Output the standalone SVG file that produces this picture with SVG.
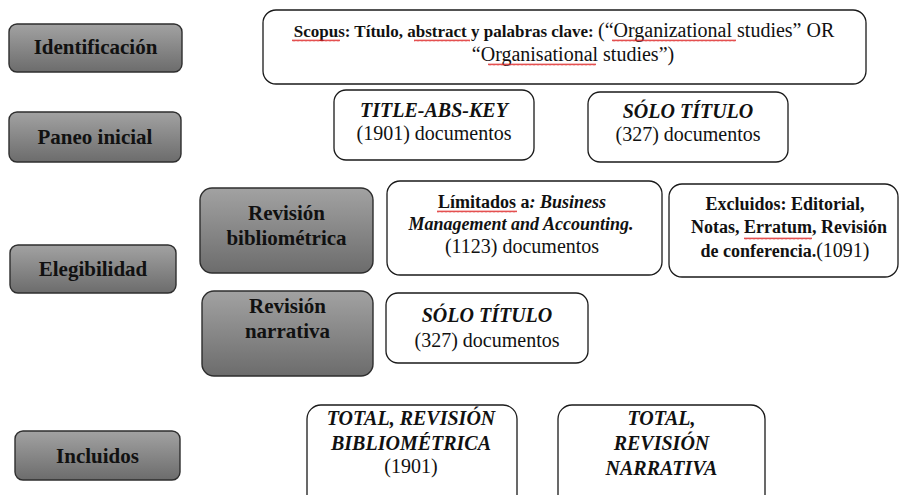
<svg xmlns="http://www.w3.org/2000/svg" width="902" height="495" viewBox="0 0 902 495" font-family="'Liberation Serif', serif">
<style>
.g{stroke:#2e2e2e;stroke-width:1.4;fill:url(#grad)}
.w{stroke:#1a1a1a;stroke-width:1.3;fill:#fff}
text{fill:#111}
.lb{font-weight:bold;font-size:21px;text-anchor:middle}
.r{font-size:20px}
.bi{font-weight:bold;font-style:italic}
.b{font-weight:bold}
.c{text-anchor:middle}
.sq{fill:url(#wave)}
</style>
<defs>
<linearGradient id="grad" x1="0" y1="0" x2="0" y2="1">
<stop offset="0" stop-color="#a2a2a2"/>
<stop offset="1" stop-color="#6c6c6c"/>
</linearGradient>
<pattern id="wave" width="4" height="3" patternUnits="userSpaceOnUse">
<path d="M0,2.4 L1,0.6 L2,2.4 L3,0.6 L4,2.4" fill="none" stroke="#d22" stroke-width="0.8"/>
</pattern>
</defs>

<g id="connectors"></g>

<g id="identificacion">
<rect class="g" x="9" y="24" width="173" height="48" rx="8"/>
<text class="lb" x="95.5" y="54">Identificación</text>
</g>
<g id="paneo-inicial">
<rect class="g" x="9" y="112" width="172" height="50" rx="8"/>
<text class="lb" x="95" y="144">Paneo inicial</text>
</g>
<g id="elegibilidad">
<rect class="g" x="10" y="245" width="166" height="48" rx="8"/>
<text class="lb" x="93" y="276">Elegibilidad</text>
</g>
<g id="incluidos">
<rect class="g" x="15" y="431" width="165" height="49" rx="8"/>
<text class="lb" x="97.5" y="463">Incluidos</text>
</g>
<g id="revision-bibliometrica">
<rect class="g" x="200" y="188" width="173" height="85" rx="12"/>
<text class="lb" x="286.5" y="220">Revisión</text>
<text class="lb" x="286.5" y="245">bibliométrica</text>
</g>
<g id="revision-narrativa">
<rect class="g" x="202" y="291" width="171" height="85" rx="12"/>
<text class="lb" x="287.5" y="313">Revisión</text>
<text class="lb" x="287.5" y="338">narrativa</text>
</g>

<g id="scopus">
<rect class="w" x="263" y="10" width="603" height="74" rx="13"/>
<text class="c" x="564" y="37"><tspan class="b" font-size="17">Scopus: Título, abstract y palabras clave: </tspan><tspan class="r">(“Organizational studies” OR</tspan></text>
<text class="c r" x="573" y="61">“Organisational studies”)</text>
<rect class="sq" x="292" y="39" width="48" height="3"/>
<rect class="sq" x="414" y="39" width="56" height="3"/>
<rect class="sq" x="612" y="39" width="124" height="3"/>
<rect class="sq" x="488" y="63" width="108" height="3"/>
</g>

<g id="title-abs-key">
<rect class="w" x="334" y="90" width="200" height="70" rx="12"/>
<text class="c bi" font-size="20" x="434" y="117">TITLE-ABS-KEY</text>
<text class="c r" x="434" y="140">(1901) documentos</text>
</g>
<g id="solo-titulo-1">
<rect class="w" x="588" y="92" width="200" height="70" rx="12"/>
<text class="c bi" font-size="20" x="688" y="118">SÓLO TÍTULO</text>
<text class="c r" x="688" y="141">(327) documentos</text>
</g>

<g id="limitados">
<rect class="w" x="387" y="181" width="275" height="94" rx="13"/>
<text class="c" font-size="18" x="522" y="208"><tspan class="b">Límitados a</tspan><tspan class="bi">: Business</tspan></text>
<text class="c bi" font-size="18" x="521" y="230">Management and Accounting.</text>
<text class="c r" x="522" y="253">(1123) documentos</text>
<rect class="sq" x="437" y="210" width="80" height="3"/>
</g>
<g id="excluidos">
<rect class="w" x="669" y="184" width="229" height="93" rx="13"/>
<text class="c b" font-size="18" x="785" y="210">Excluidos: Editorial,</text>
<text class="c b" font-size="18" x="789" y="233">Notas, Erratum, Revisión</text>
<text class="c" x="785" y="257"><tspan class="b" font-size="18">de conferencia.</tspan><tspan class="r">(1091)</tspan></text>
<rect class="sq" x="744" y="237" width="68" height="3"/>
</g>

<g id="solo-titulo-2">
<rect class="w" x="386" y="293" width="202" height="70" rx="12"/>
<text class="c bi" font-size="20" x="487" y="322">SÓLO TÍTULO</text>
<text class="c r" x="487" y="347">(327) documentos</text>
</g>

<g id="total-bibliometrica">
<rect class="w" x="307" y="405" width="210" height="110" rx="14"/>
<text class="c bi" font-size="20" x="411" y="425">TOTAL, REVISIÓN</text>
<text class="c bi" font-size="20" x="411" y="450">BIBLIOMÉTRICA</text>
<text class="c r" x="411" y="473">(1901)</text>
</g>
<g id="total-narrativa">
<rect class="w" x="558" y="405" width="207" height="110" rx="14"/>
<text class="c bi" font-size="20" x="661.5" y="425">TOTAL,</text>
<text class="c bi" font-size="20" x="661.5" y="450">REVISIÓN</text>
<text class="c bi" font-size="20" x="661.5" y="475">NARRATIVA</text>
</g>
</svg>
